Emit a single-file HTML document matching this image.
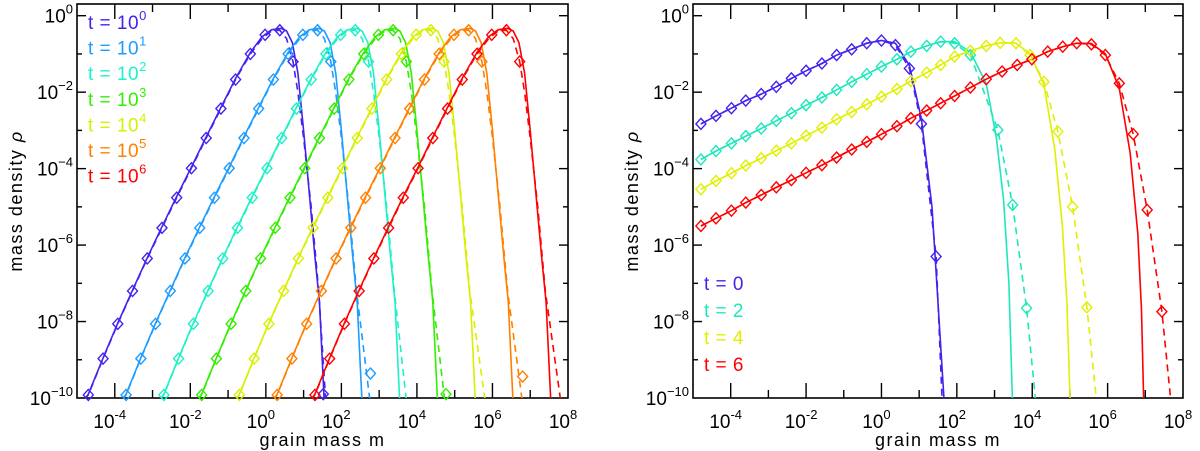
<!DOCTYPE html>
<html><head><meta charset="utf-8"><style>
html,body{margin:0;padding:0;background:#fff;}
svg{display:block;font-family:"Liberation Sans",sans-serif;}
</style></head><body>
<svg id="fig" width="1200" height="451" viewBox="0 0 1200 451" xmlns="http://www.w3.org/2000/svg">
<defs>
<clipPath id="clipL"><rect x="77" y="4" width="491" height="394"/></clipPath>
<clipPath id="clipR"><rect x="693" y="4" width="490" height="394"/></clipPath>
</defs>
</svg>
<script>
// ---------- LEFT PANEL DATA ----------
const leftLabels = ['0','1','2','3','4','5','6'];
const leftColors = ['#4422ee','#1e9cff','#1ef0c8','#33ee00','#d8f000','#ff8000','#ff0000'];
const leftShift = [0,1,2,3,4,5,6];
const baseSolidU = [-5.0,-4.7,-4.31,-3.92,-3.53,-3.14,-2.75,-2.36,-1.97,-1.58,-1.19,-0.8,-0.41,-0.1,0.15,0.4,0.55,0.7,0.85,1.0,1.1,1.2,1.3,1.42,1.55];
const baseSolidR = [-10.3,-9.9,-8.95,-8.04,-7.18,-6.33,-5.52,-4.73,-3.96,-3.17,-2.4,-1.64,-0.96,-0.55,-0.37,-0.33,-0.4,-0.7,-1.5,-3.0,-4.1,-5.2,-6.3,-7.5,-10.2];
const baseDashU = [-5.0,-4.7,-4.31,-3.92,-3.53,-3.14,-2.75,-2.36,-1.97,-1.58,-1.19,-0.8,-0.41,-0.1,0.15,0.37,0.55,0.72,0.85,1.0,1.2,1.4];
const baseDashR = [-10.3,-9.92,-8.97,-8.06,-7.2,-6.35,-5.55,-4.76,-3.99,-3.2,-2.43,-1.67,-1.0,-0.6,-0.4,-0.38,-0.6,-1.2,-2.0,-3.2,-5.0,-7.2];
const dashTailEnd = [1.62,2.82,3.78,4.8,5.88,6.86,7.88];
const baseDiaU = [-4.70,-4.31,-3.92,-3.53,-3.14,-2.75,-2.36,-1.97,-1.58,-1.19,-0.80,-0.41,-0.02,0.37,0.72];
const baseDiaR = [-9.92,-8.97,-8.06,-7.2,-6.35,-5.55,-4.76,-3.99,-3.2,-2.43,-1.67,-1.0,-0.5,-0.38,-1.2];
const tailDiaM = [1.52,2.77,null,4.77,null,6.8,null];
const tailDiaR = [-9.9,-9.36,null,-9.9,null,-9.44,null];

// ---------- RIGHT PANEL DATA ----------
const rightLabels = ['0','2','4','6'];
const rightColors = ['#4422ee','#1ee8bb','#e0f000','#ff0000'];
const rBlueDiaM = [-4.79,-4.39,-3.98,-3.6,-3.19,-2.79,-2.39,-2.0,-1.58,-1.19,-0.79,-0.39,0,0.37,0.74,1.06,1.45];
const rBlueDiaR = [-2.83,-2.62,-2.42,-2.22,-2.05,-1.86,-1.64,-1.44,-1.25,-1.03,-0.88,-0.72,-0.65,-0.77,-1.38,-2.83,-6.30];
const rBlueTailM = [0.37,0.74,1.06,1.34,1.48,1.67];
const rBlueTailR = [-0.72,-1.3,-2.7,-5.0,-7.17,-10.2];
const rCyanDiaM = [-4.79,-4.39,-3.98,-3.6,-3.19,-2.79,-2.39,-2.0,-1.58,-1.19,-0.79,-0.39,0,0.41,0.78,1.2,1.57,1.94,2.36,3.09,3.48,3.85];
const rCyanDiaR = [-3.76,-3.54,-3.34,-3.15,-2.95,-2.75,-2.55,-2.34,-2.14,-1.94,-1.73,-1.53,-1.33,-1.14,-0.94,-0.79,-0.68,-0.72,-1.03,-2.99,-4.95,-7.65];
const rCyanTailM = [1.94,2.36,2.78,3.05,3.24,3.38,3.48];
const rCyanTailR = [-0.68,-0.95,-1.77,-3.2,-4.82,-7.0,-10.2];
const rYellowDiaM = [-4.79,-4.39,-3.98,-3.6,-3.19,-2.79,-2.39,-2.0,-1.58,-1.19,-0.79,-0.39,0,0.41,0.78,1.2,1.57,1.94,2.36,2.78,3.15,3.57,3.94,4.31,4.68,5.07,5.45];
const rYellowDiaR = [-4.54,-4.32,-4.12,-3.92,-3.73,-3.53,-3.34,-3.14,-2.93,-2.71,-2.52,-2.32,-2.12,-1.92,-1.71,-1.49,-1.29,-1.07,-0.92,-0.79,-0.71,-0.72,-1.03,-1.73,-3.03,-5.0,-7.63];
const rYellowTailM = [3.57,3.94,4.31,4.6,4.8,4.92,5.01];
const rYellowTailR = [-0.72,-1.0,-1.8,-3.5,-5.5,-7.5,-10.2];
const rRedDiaM = [-4.79,-4.39,-3.98,-3.6,-3.19,-2.79,-2.39,-2.0,-1.58,-1.19,-0.79,-0.39,0,0.41,0.78,1.2,1.57,1.94,2.36,2.78,3.2,3.6,3.99,4.41,4.81,5.18,5.57,5.94,6.31,6.68,7.05,7.44];
const rRedDiaR = [-5.5,-5.3,-5.1,-4.89,-4.69,-4.49,-4.3,-4.11,-3.91,-3.71,-3.5,-3.3,-3.1,-2.89,-2.68,-2.48,-2.29,-2.1,-1.88,-1.66,-1.46,-1.29,-1.14,-0.94,-0.81,-0.72,-0.75,-1.03,-1.77,-3.1,-5.08,-7.74];
const rRedTailM = [5.57,5.94,6.31,6.6,6.8,6.9,6.96];
const rRedTailR = [-0.73,-1.0,-1.9,-3.6,-5.7,-7.7,-10.2];
const rDashEnd = [1.62,4.11,5.73,7.70];

// ---------- AXES ----------
const xTickVals = [-4,-2,0,2,4,6,8];
const yTickVals = [0,-2,-4,-6,-8,-10];
const XMIN=-5, XMAX=8, YMIN=-10, TOP=4, BOT=398, DEC_Y=38.23;

const svg = document.getElementById('fig');
const NS='http://www.w3.org/2000/svg';
function mk(tag, attrs, parent){const e=document.createElementNS(NS,tag);for(const k in attrs)e.setAttribute(k,attrs[k]);(parent||svg).appendChild(e);return e;}

function makePanel(x0,x1,name){
  const sx = v => x0 + (v-XMIN)/(XMAX-XMIN)*(x1-x0);
  const sy = v => BOT - (v-YMIN)*DEC_Y;
  const g = mk('g',{});
  
  
  const frame = mk('rect',{x:x0,y:TOP,width:x1-x0,height:BOT-TOP,fill:'none',stroke:'#000','stroke-width':1.6},g);
  
  
  for(let d=XMIN+1; d<XMAX; d++){
    const major = d%2===0, L = major?15:8, X = sx(d);
    const t1 = mk('line',{x1:X,x2:X,y1:BOT,y2:BOT-L,stroke:'#000','stroke-width':1.4},g);
    
    
    const t2 = mk('line',{x1:X,x2:X,y1:TOP,y2:TOP+L,stroke:'#000','stroke-width':1.4},g);
    
    
  }
  xTickVals.forEach(v=>{
    const t = mk('text',{x:sx(v)-5,y:428,'font-size':19,'text-anchor':'middle'},g);
    
    
    t.textContent='10';
    const s = mk('tspan',{dy:-9,'font-size':13},t); s.textContent=String(v);
  });
  for(let d=-9; d<=0; d++){
    const major = d%2===0, L = major?9:5, Y = sy(d);
    const t1 = mk('line',{x1:x0,x2:x0+L,y1:Y,y2:Y,stroke:'#000','stroke-width':1.4},g);
    
    
    const t2 = mk('line',{x1:x1,x2:x1-L,y1:Y,y2:Y,stroke:'#000','stroke-width':1.4},g);
    
    
  }
  yTickVals.forEach(v=>{
    const lab = String(v).replace('-','\u2212');
    const t = mk('text',{x:x0-4,y:sy(v)+7,'font-size':19,'text-anchor':'end'},g);
    
    
    const a = mk('tspan',{},t); a.textContent='10';
    const s = mk('tspan',{dy:-9,'font-size':13},t); s.textContent=lab;
  });
  const xt = mk('text',{x:(x0+x1)/2,y:446,'font-size':18,'text-anchor':'middle','letter-spacing':'1.5'},g);
  
  
  xt.textContent='grain mass m';
  const yt = mk('text',{x:0,y:0,'font-size':18,'text-anchor':'middle','letter-spacing':'1.5',transform:`translate(${x0-55},201) rotate(-90)`},g);
  
  
  yt.textContent='mass density ';
  const rho = mk('tspan',{'font-style':'italic'},yt); rho.textContent='\u03c1';
  return {sx,sy,g};
}
function pathD(ms,rs,sx,sy){return ms.map((m,i)=>(i?'L':'M')+sx(m).toFixed(1)+','+sy(rs[i]).toFixed(1)).join('');}
function diamond(parent,x,y,c){
  const d = mk('path',{d:`M${x},${y-5.5}L${x+5},${y}L${x},${y+5.5}L${x-5},${y}Z`,fill:'none',stroke:c,'stroke-width':1.4},parent);
  
  
}

// LEFT
const L = makePanel(77,568,'left-panel');
const lc = mk('g',{'clip-path':'url(#clipL)'},L.g);
leftShift.forEach((k,i)=>{
  const c = leftColors[i];
  const s = mk('path',{d:pathD(baseSolidU.map(u=>u+k),baseSolidR,L.sx,L.sy),fill:'none',stroke:c,'stroke-width':1.6},lc);
  
  
  const dm = baseDashU.map(u=>u+k); dm.push(dashTailEnd[i]);
  const dr = baseDashR.slice(); dr.push(-10.6);
  const d = mk('path',{d:pathD(dm,dr,L.sx,L.sy),fill:'none',stroke:c,'stroke-width':1.6,'stroke-dasharray':'7 5'},lc);
  
  
});
leftShift.forEach((k,i)=>{
  baseDiaU.forEach((u,j)=>{ if(u+k<=XMAX && u+k>=XMIN) diamond(L.g,L.sx(u+k),L.sy(baseDiaR[j]),leftColors[i]); });
  if(tailDiaM[i]!==null) diamond(L.g,L.sx(tailDiaM[i]),L.sy(tailDiaR[i]),leftColors[i]);
  const t = mk('text',{x:88,y:29+i*25.6,'font-size':19,fill:leftColors[i],'letter-spacing':'0.5'},L.g);
  
  
  t.setAttribute('xml:space','preserve');
  t.textContent='t  =  10';
  const s = mk('tspan',{dy:-9,'font-size':13},t); s.textContent=leftLabels[i];
});

// RIGHT
const R = makePanel(693,1183,'right-panel');
const rc = mk('g',{'clip-path':'url(#clipR)'},R.g);
const rDiaM=[rBlueDiaM,rCyanDiaM,rYellowDiaM,rRedDiaM], rDiaR=[rBlueDiaR,rCyanDiaR,rYellowDiaR,rRedDiaR];
const rTailM=[rBlueTailM,rCyanTailM,rYellowTailM,rRedTailM], rTailR=[rBlueTailR,rCyanTailR,rYellowTailR,rRedTailR];
rightLabels.forEach((lab,i)=>{
  const c = rightColors[i];
  const first = rTailM[i][0];
  const sm=[],sr=[];
  rDiaM[i].forEach((m,j)=>{ if(m<first){sm.push(m);sr.push(rDiaR[i][j]);} });
  const s = mk('path',{d:pathD(sm.concat(rTailM[i]),sr.concat(rTailR[i]),R.sx,R.sy),fill:'none',stroke:c,'stroke-width':1.6},rc);
  
  
  const dm = rDiaM[i].concat([rDashEnd[i]]), dr = rDiaR[i].concat([-10.3]);
  const d = mk('path',{d:pathD(dm,dr,R.sx,R.sy),fill:'none',stroke:c,'stroke-width':1.6,'stroke-dasharray':'7 5'},rc);
  
  
});
rightLabels.forEach((lab,i)=>{
  rDiaM[i].forEach((m,j)=>diamond(R.g,R.sx(m),R.sy(rDiaR[i][j]),rightColors[i]));
  const t = mk('text',{x:704,y:290+i*27,'font-size':19,fill:rightColors[i],'letter-spacing':'0.5'},R.g);
  
  
  t.setAttribute('xml:space','preserve');
  t.textContent='t  =  '+lab;
});
</script>
</body></html>
